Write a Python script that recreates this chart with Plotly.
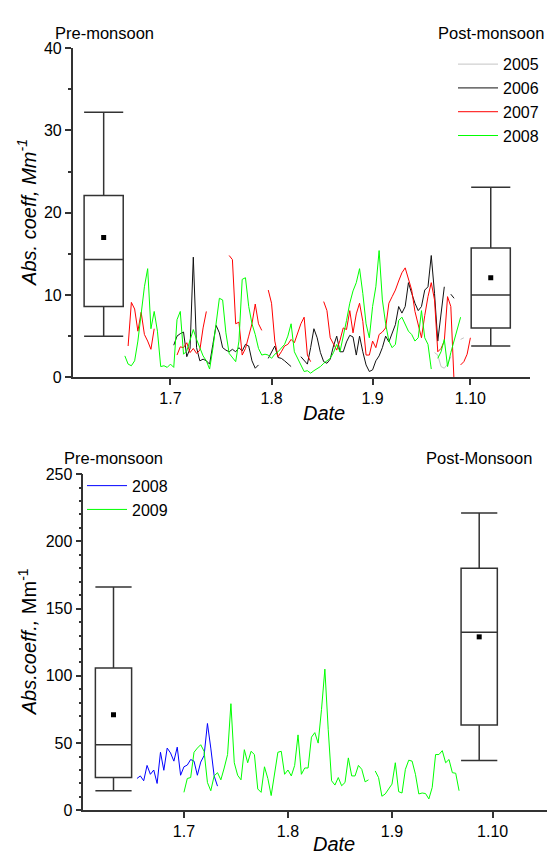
import plotly.graph_objects as go
import pandas as pd

W, H = 547, 862
FONT = "Liberation Sans, Arial, sans-serif"
AX = "#333333"

# ---------------- top panel: daily absorption coefficient (None = gap) ----------------
top_names = ["2005", "2006", "2007", "2008"]
top_colors = ["#c4c4c4", "#111111", "#ff0000", "#00ff00"]
top_starts = ["2001-09-20", "2001-07-02", "2001-06-18", "2001-06-17"]

s2005 = [3.0, 2.7, 1.3, 1.1, 1.6, 2.5, None, None, 4.6, 4.8]
s2006 = [3.9, 5.0, 5.3, 5.5, 2.5, 3.5, 14.6, 3.6, 2.0, 2.2, 2.0, 1.6, 4.0, 6.3, 5.4, 3.6, 3.3,
         3.1, 3.4, 3.1, 3.6, 3.2, 4.0, 3.8, 2.0, 1.1, 1.5, None, None,
         2.3, 3.0, 3.8, 2.4, 2.3, 2.0, 1.7, 1.3, None, None,
         2.5, 2.0, 1.6, 3.6, 5.9, 4.8, 3.0, 1.9, 1.7, 2.2, 3.8, 5.0, 3.1, 3.1, 4.3, 5.1, 4.9,
         2.7, 5.0, 3.1, 1.5, 0.7, 0.9, 2.0, 2.6, 3.6, 5.0, 4.3, 5.4, 6.4, 8.6, 7.8, 8.6, 11.5,
         10.2, 9.0, 8.1, 8.6, 10.6, 11.0, 14.8, 10.2, 4.4, 8.1, 11.0, None, 10.1, 9.6]
s2007 = [3.8, 9.1, 8.3, 5.6, 7.9, 5.2, 4.4, 3.4, 5.9, None, None, None, None, None, None,
         2.7, 3.7, 3.6, 4.2, 3.0, 3.5, 2.9, 3.3, 6.0, 8.0, None, None, None, None, None, None,
         14.8, 14.3, 6.5, 6.7, 2.7, 3.5, 5.0, 6.5, 8.9, 6.5, 5.7, None,
         10.6, 9.0, 4.4, 2.5, 3.1, 3.8, 4.0, 4.6, 4.2, 5.5, 6.5, 7.3, 2.7, 1.9, None, None, None,
         9.2, 8.1, 4.8, 4.0, 3.3, 4.5, 6.0, 5.8, 8.1, 5.4, 7.7, 9.0, 6.8, 2.7, 2.7, 4.4, 3.6,
         5.2, 5.5, 6.0, 9.0, 9.8, 10.6, 11.7, 12.7, 13.3, 12.0, 10.6, 8.0, 6.5, 4.8, 7.5, 9.8,
         11.5, 9.4, 3.1, 3.5, 4.4, 9.8, 8.6, -0.6, None, 1.5, 1.9, 2.8, 4.8]
s2008 = [2.6, 1.6, 1.4, 2.0, 4.4, 7.7, 11.0, 13.2, 5.9, 8.0,
         5.6, 1.3, 1.4, 1.2, 1.6, 1.2, 7.0, 8.0, 2.8, 3.2,
         4.5, 5.8, 4.6, 3.5, 2.6, 2.0, 1.0, 3.5, 6.9, 9.6,
         9.4, 5.4, 2.9, 2.4, 1.9, 4.4, 11.9, 12.1, 8.6, 6.5,
         5.2, 3.5, 2.7, 2.8, 2.7, 2.3, 2.8, 3.1, 3.5, 4.0,
         5.0, 6.5, 3.1, 2.3, 1.5, 0.7, 0.8, 0.5, 0.8, 1.0,
         1.3, 1.7, 2.0, 2.3, 3.0, 4.0, 3.1, 4.8, 6.9, 9.0,
         10.5, 11.5, 13.2, 10.2, 6.5, 4.8, 8.6, 11.0, 15.4, 9.4,
         6.5, 4.4, 3.6, 4.0, 6.9, 7.3, 6.5, 5.6, 5.2, 4.4,
         4.8, 8.1, 4.8, 4.0, 1.0, None, 2.3, 3.1, 4.6, 1.3, 3.0, 4.4, 6.0, 7.3]
top_series = [s2005, s2006, s2007, s2008]

# box statistics (pre-monsoon, post-monsoon)
top_box_x = ["2001-06-10 12:00", "2001-10-07 06:00"]
top_lower = [5.0, 3.8]
top_q1 = [8.6, 6.0]
top_median = [14.3, 10.0]
top_q3 = [22.1, 15.7]
top_upper = [32.2, 23.1]
top_mean = [17.0, 12.1]

# ---------------- bottom panel ----------------
bot_names = ["2008", "2009"]
bot_colors = ["#0000ff", "#00ff00"]
bot_starts = ["2001-06-17", "2001-07-01"]
b2008 = [23.7, 25.6, 22.0, 33.4, 26.8, 30.0, 20.0, 43.2, 29.8, 46.3, 42.7, 36.6, 47.0, 26.1,
         32.4, 33.7, 37.8, 36.6, 26.1, 35.9, 40.7, 64.6, 46.3, 25.6, 18.0]
b2009 = [13.4, 23.7, 24.4, 43.2, 46.3, 48.8, 43.9, 20.7, 14.6, 25.6, 28.0, 22.7, 31.5, 41.5,
         79.3, 35.4, 26.1, 22.7, 45.1, 35.4, 43.9, 41.5, 15.9, 13.4, 32.4, 23.7, 11.0, 26.8,
         43.2, 43.9, 26.8, 30.0, 25.6, 33.4, 56.1, 26.8, 31.5, 31.5, 54.4, 57.8, 50.0, 75.0,
         105.0, 60.0, 22.0, 18.8, 24.4, 18.3, 20.7, 39.0, 25.6, 25.6, 33.4, 30.5, 21.2, 22.7,
         None,
         29.3, 24.4, 10.5, 12.2, 15.9, 19.5, 35.4, 13.9, 12.9, 30.5, 37.3, 36.6, 26.8, 12.2,
         12.9, 12.5, 8.5, 17.1, 41.5, 41.5, 44.4, 35.4, 37.8, 28.0, 27.6, 14.6]
bot_series = [b2008, b2009]

bot_box_x = ["2001-06-10", "2001-09-27"]
bot_lower = [14.5, 37.0]
bot_q1 = [24.5, 63.5]
bot_median = [48.8, 132.5]
bot_q3 = [105.8, 180.0]
bot_upper = [166.0, 221.0]
bot_mean = [71.0, 129.0]

tick_vals = ["2001-07-01", "2001-08-01", "2001-09-01", "2001-10-01"]
tick_text = ["1.7", "1.8", "1.9", "1.10"]

fig = go.Figure()

for name, col, start, vals in zip(top_names, top_colors, top_starts, top_series):
    fig.add_trace(go.Scatter(x=pd.date_range(start, periods=len(vals), freq="D"), y=vals,
                             mode="lines", name=name, line=dict(color=col, width=1),
                             connectgaps=False, xaxis="x", yaxis="y", legend="legend"))
fig.add_trace(go.Box(x=top_box_x, q1=top_q1, median=top_median, q3=top_q3,
                     lowerfence=top_lower, upperfence=top_upper, orientation="v",
                     width=12 * 86400000, whiskerwidth=1, boxpoints=False,
                     line=dict(color=AX, width=1.5), fillcolor="rgba(255,255,255,0)",
                     showlegend=False, xaxis="x", yaxis="y"))
fig.add_trace(go.Scatter(x=top_box_x, y=top_mean, mode="markers", showlegend=False,
                         marker=dict(symbol="square", size=5, color="black"),
                         xaxis="x", yaxis="y"))

for name, col, start, vals in zip(bot_names, bot_colors, bot_starts, bot_series):
    fig.add_trace(go.Scatter(x=pd.date_range(start, periods=len(vals), freq="D"), y=vals,
                             mode="lines", name=name, line=dict(color=col, width=1),
                             connectgaps=False, xaxis="x2", yaxis="y2", legend="legend2"))
fig.add_trace(go.Box(x=bot_box_x, q1=bot_q1, median=bot_median, q3=bot_q3,
                     lowerfence=bot_lower, upperfence=bot_upper, orientation="v",
                     width=10.8 * 86400000, whiskerwidth=1, boxpoints=False,
                     line=dict(color=AX, width=1.5), fillcolor="rgba(255,255,255,0)",
                     showlegend=False, xaxis="x2", yaxis="y2"))
fig.add_trace(go.Scatter(x=bot_box_x, y=bot_mean, mode="markers", showlegend=False,
                         marker=dict(symbol="square", size=5, color="black"),
                         xaxis="x2", yaxis="y2"))


def xax(domain, rng):
    return dict(domain=domain, type="date", range=rng, tickvals=tick_vals, ticktext=tick_text,
                ticks="outside", ticklen=6, tickwidth=1.5, tickcolor=AX, showline=True,
                linecolor=AX, linewidth=1.5, showgrid=False, zeroline=False,
                tickfont=dict(family=FONT, size=16, color="black"))


def yax(domain, rng, dtick, mdtick):
    return dict(domain=domain, range=rng, dtick=dtick, ticks="outside", ticklen=6,
                tickwidth=1.5, tickcolor=AX, showline=True, linecolor=AX, linewidth=1.5,
                showgrid=False, zeroline=False,
                minor=dict(dtick=mdtick, ticks="outside", ticklen=3, tickwidth=1.5,
                           tickcolor=AX, showgrid=False),
                tickfont=dict(family=FONT, size=16, color="black"))


px_x = lambda p: p / W
px_y = lambda p: 1 - p / H

fig.update_layout(
    width=W, height=H, margin=dict(l=0, r=0, t=0, b=0),
    paper_bgcolor="white", plot_bgcolor="white",
    font=dict(family=FONT, color="black"),
    xaxis=dict(xax([px_x(72.7), px_x(530)], ["2001-06-01", "2001-10-19 07:00"]), anchor="y"),
    yaxis=dict(yax([px_y(376.7), px_y(41)], [0, 40], 10, 5), anchor="x"),
    xaxis2=dict(xax([px_x(83.3), 1.0], ["2001-06-01", "2001-10-17 05:00"]), anchor="y2"),
    yaxis2=dict(yax([px_y(818.5), px_y(475.5)], [0, 250], 50, 10), anchor="x2"),
    legend=dict(x=px_x(453), y=px_y(40), xanchor="left", yanchor="top",
                bgcolor="rgba(0,0,0,0)", font=dict(family=FONT, size=16), itemwidth=40,
                tracegroupgap=0),
    legend2=dict(x=px_x(82), y=px_y(470), xanchor="left", yanchor="top",
                 bgcolor="rgba(0,0,0,0)", font=dict(family=FONT, size=16), itemwidth=40,
                 tracegroupgap=0),
    showlegend=True,
)

ann = [
    dict(text="Pre-monsoon", x=px_x(104), y=px_y(26), size=16.5),
    dict(text="Post-monsoon", x=px_x(491), y=px_y(26), size=16.5),
    dict(text="Pre-monsoon", x=px_x(113), y=px_y(459), size=16.5),
    dict(text="Post-Monsoon", x=px_x(479), y=px_y(459), size=16.5),
    dict(text="<i>Date</i>", x=px_x(324), y=px_y(413), size=20),
    dict(text="<i>Date</i>", x=px_x(334), y=px_y(853), size=20),
]
for a in ann:
    fig.add_annotation(text=a["text"], x=a["x"], y=a["y"], xref="paper", yref="paper",
                       xanchor="center", yanchor="middle", showarrow=False,
                       font=dict(family=FONT, size=a["size"], color="black"))
fig.add_annotation(text="<i>Abs. coeff, Mm<sup>-1</sup></i>", x=px_x(27), y=px_y(209),
                   xref="paper", yref="paper", xanchor="center", yanchor="middle",
                   textangle=-90, showarrow=False, font=dict(family=FONT, size=20, color="black"))
fig.add_annotation(text="<i>Abs.coeff.,</i> Mm<sup>-1</sup>", x=px_x(27), y=px_y(647),
                   xref="paper", yref="paper", xanchor="center", yanchor="middle",
                   textangle=-90, showarrow=False, font=dict(family=FONT, size=20, color="black"))

fig.write_html("out.html")
